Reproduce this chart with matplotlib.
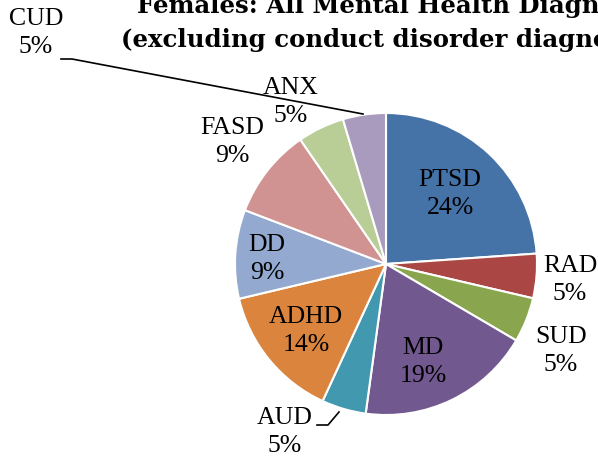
import numpy as np
import matplotlib.pyplot as plt

# slice shares (clockwise from 12 o'clock)
categories = ['PTSD', 'RAD', 'SUD', 'MD', 'AUD', 'ADHD', 'DD', 'FASD', 'ANX', 'CUD']
shares = [23.9, 4.75, 4.8, 18.7, 4.75, 14.4, 9.5, 9.6, 5.0, 4.6]
pct_labels = ['24%', '5%', '5%', '19%', '5%', '14%', '9%', '9%', '5%', '5%']
colors = ['#4572A7', '#AA4643', '#89A54E', '#71588F', '#4198AF',
          '#DB843D', '#93A9CF', '#D19392', '#B9CD96', '#A99BBD']

# pie geometry in image pixels
W, H = 598, 461
CX, CY, R = 386, 264, 151

# label block centres in image pixels
label_px = [(450, 194), (570, 280), (561, 351), (423, 362), (285, 432),
            (306, 331), (267, 259), (232, 142), (291, 102), (36, 33)]


def px_to_data(px, py):
    return (px - CX) / R, (CY - py) / R


plt.rcParams['font.family'] = ['Liberation Serif', 'DejaVu Serif']

fig = plt.figure(figsize=(W / 100, H / 100), dpi=100)
ax = fig.add_axes([(CX - R) / W, (H - CY - R) / H, 2 * R / W, 2 * R / H])

wedges, _ = ax.pie(shares, colors=colors, startangle=90, counterclock=False,
                   radius=1, wedgeprops=dict(edgecolor='white', linewidth=1.5))
ax.set_xlim(-1, 1)
ax.set_ylim(-1, 1)
ax.set_aspect('equal')
ax.axis('off')

for name, pct, (px, py) in zip(categories, pct_labels, label_px):
    x, y = px_to_data(px, py)
    ax.text(x, y, f'{name}\n{pct}', ha='center', va='center', fontsize=18.5,
            linespacing=1.4, color='black', clip_on=False)

# leader lines for the small outside labels
def leader(points):
    xs, ys = zip(*[px_to_data(*p) for p in points])
    ax.plot(xs, ys, color='black', lw=1.2, clip_on=False)

leader([(61, 59), (72, 59), (363, 114)])
leader([(317, 425), (328, 425), (339, 412)])

title_font = dict(ha='left', va='baseline', fontsize=17.6, fontweight='bold',
                  family=['DejaVu Serif'])
fig.text(137 / W, 1 - 13 / H, 'Females: All Mental Health Diagnoses', **title_font)
fig.text(121 / W, 1 - 47 / H, '(excluding conduct disorder diagnoses)', **title_font)

fig.savefig('out.png', dpi=100)
